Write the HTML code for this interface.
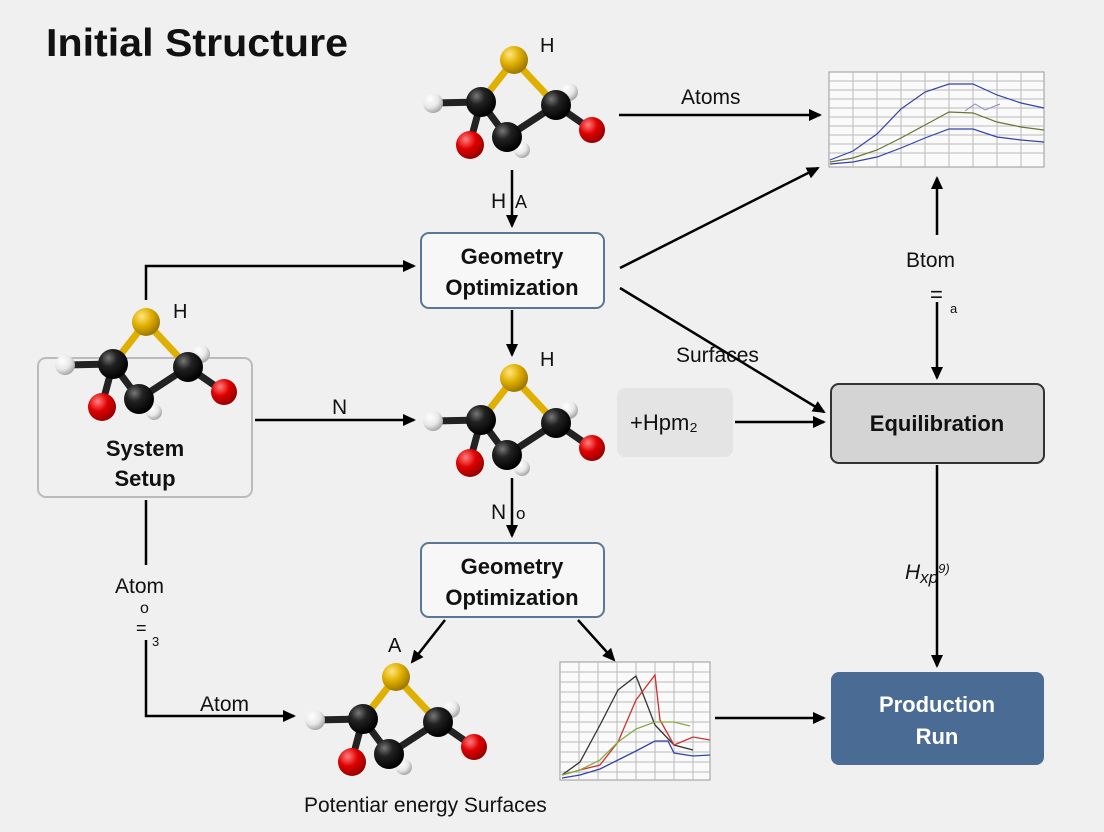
<!DOCTYPE html>
<html><head><meta charset="utf-8"><style>
html,body{margin:0;padding:0;background:#f0f0f0;}
svg{display:block;font-family:"Liberation Sans",sans-serif;}
</style></head><body>
<svg width="1104" height="832" viewBox="0 0 1104 832" xmlns="http://www.w3.org/2000/svg">
<defs>
<marker id="a" markerWidth="13" markerHeight="12" refX="11" refY="6" orient="auto" markerUnits="userSpaceOnUse"><path d="M0,0 L13,6 L0,12 z" fill="#000"/></marker>
<radialGradient id="gk" cx="35%" cy="30%" r="70%"><stop offset="0" stop-color="#777"/><stop offset="0.4" stop-color="#222"/><stop offset="1" stop-color="#000"/></radialGradient>
<radialGradient id="gs" cx="35%" cy="30%" r="70%"><stop offset="0" stop-color="#ffe680"/><stop offset="0.5" stop-color="#e0b000"/><stop offset="1" stop-color="#a07800"/></radialGradient>
<radialGradient id="gr" cx="35%" cy="30%" r="70%"><stop offset="0" stop-color="#ff8080"/><stop offset="0.5" stop-color="#e00000"/><stop offset="1" stop-color="#900"/></radialGradient>
<radialGradient id="gw" cx="35%" cy="30%" r="70%"><stop offset="0" stop-color="#fff"/><stop offset="0.6" stop-color="#e8e8e8"/><stop offset="1" stop-color="#aaa"/></radialGradient>
<g id="mol">
<g stroke-width="7" stroke-linecap="round">
<line x1="0" y1="0" x2="-33" y2="42" stroke="#e0b000"/>
<line x1="0" y1="0" x2="42" y2="45" stroke="#e0b000"/>
<line x1="-33" y1="42" x2="-7" y2="77" stroke="#222"/>
<line x1="42" y1="45" x2="-7" y2="77" stroke="#222"/>
<line x1="-33" y1="42" x2="-81" y2="43" stroke="#222"/>
<line x1="-33" y1="42" x2="-44" y2="83" stroke="#222"/>
<line x1="42" y1="45" x2="78" y2="70" stroke="#222"/>
</g>
<circle cx="-81" cy="43" r="10" fill="url(#gw)"/>
<circle cx="55" cy="32" r="9" fill="url(#gw)"/>
<circle cx="8" cy="90" r="8" fill="url(#gw)"/>
<circle cx="-33" cy="42" r="15" fill="url(#gk)"/>
<circle cx="42" cy="45" r="15" fill="url(#gk)"/>
<circle cx="-44" cy="85" r="14" fill="url(#gr)"/>
<circle cx="-7" cy="77" r="15" fill="url(#gk)"/>
<circle cx="78" cy="70" r="13" fill="url(#gr)"/>
<circle cx="0" cy="0" r="14" fill="url(#gs)"/>
</g>
</defs>

<text x="46" y="56" font-size="39" font-weight="bold" fill="#111" textLength="302" lengthAdjust="spacingAndGlyphs">Initial Structure</text>

<!-- boxes behind molecules -->
<rect x="38" y="358" width="214" height="139" rx="8" fill="none" stroke="#bbb" stroke-width="2"/>

<!-- molecules -->
<use href="#mol" x="514" y="60"/>
<use href="#mol" x="146" y="322"/>
<use href="#mol" x="514" y="378"/>
<use href="#mol" x="396" y="677"/>

<g font-size="20" fill="#111">
<text x="540" y="52">H</text>
<text x="173" y="318">H</text>
<text x="540" y="366">H</text>
<text x="388" y="652">A</text>
</g>

<text x="145" y="456" font-size="22" font-weight="bold" text-anchor="middle" fill="#111">System</text>
<text x="145" y="486" font-size="22" font-weight="bold" text-anchor="middle" fill="#111">Setup</text>

<rect x="421" y="233" width="183" height="75" rx="8" fill="#f7f7f7" stroke="#5a7896" stroke-width="2"/>
<text x="512" y="264" font-size="22" font-weight="bold" text-anchor="middle" fill="#111">Geometry</text>
<text x="512" y="295" font-size="22" font-weight="bold" text-anchor="middle" fill="#111">Optimization</text>

<rect x="421" y="543" width="183" height="74" rx="8" fill="#f7f7f7" stroke="#5a7896" stroke-width="2"/>
<text x="512" y="574" font-size="22" font-weight="bold" text-anchor="middle" fill="#111">Geometry</text>
<text x="512" y="605" font-size="22" font-weight="bold" text-anchor="middle" fill="#111">Optimization</text>

<rect x="617" y="388" width="116" height="69" rx="8" fill="#e4e4e4"/>
<text x="630" y="430" font-size="22" fill="#111">+Hpm₂</text>

<rect x="831" y="384" width="213" height="79" rx="8" fill="#d4d4d4" stroke="#333" stroke-width="2"/>
<text x="937" y="431" font-size="22" font-weight="bold" text-anchor="middle" fill="#111">Equilibration</text>

<rect x="831" y="672" width="213" height="93" rx="8" fill="#4a6c94"/>
<text x="937" y="712" font-size="22" font-weight="bold" text-anchor="middle" fill="#fff">Production</text>
<text x="937" y="744" font-size="22" font-weight="bold" text-anchor="middle" fill="#fff">Run</text>

<!-- top chart -->
<g>
<rect x="829" y="72" width="215" height="95" fill="#fafafa" stroke="#999"/>
<g stroke="#bbb" stroke-width="1">
<line x1="853" y1="72" x2="853" y2="167"/><line x1="877" y1="72" x2="877" y2="167"/><line x1="901" y1="72" x2="901" y2="167"/><line x1="925" y1="72" x2="925" y2="167"/><line x1="949" y1="72" x2="949" y2="167"/><line x1="973" y1="72" x2="973" y2="167"/><line x1="997" y1="72" x2="997" y2="167"/><line x1="1021" y1="72" x2="1021" y2="167"/>
<line x1="829" y1="81" x2="1044" y2="81"/><line x1="829" y1="90" x2="1044" y2="90"/><line x1="829" y1="99" x2="1044" y2="99"/><line x1="829" y1="108" x2="1044" y2="108"/><line x1="829" y1="117" x2="1044" y2="117"/><line x1="829" y1="126" x2="1044" y2="126"/><line x1="829" y1="135" x2="1044" y2="135"/><line x1="829" y1="144" x2="1044" y2="144"/><line x1="829" y1="153" x2="1044" y2="153"/>
</g>
<polyline fill="none" stroke="#3344aa" stroke-width="1.2" points="830,160 853,151 877,134 901,109 925,92 949,84 973,84 997,95 1021,103 1044,108"/>
<polyline fill="none" stroke="#667733" stroke-width="1.2" points="830,162 853,158 877,150 901,138 925,125 949,112 973,113 997,122 1021,127 1044,130"/>
<polyline fill="none" stroke="#3344aa" stroke-width="1.2" points="830,164 853,162 877,157 901,148 925,138 949,129 973,129 997,137 1021,140 1044,142"/>
<polyline fill="none" stroke="#8888cc" stroke-width="1" points="965,111 975,104 985,110 1000,104"/>
</g>

<!-- bottom chart -->
<g>
<rect x="560" y="662" width="150" height="118" fill="#fafafa" stroke="#999"/>
<g stroke="#bbb" stroke-width="1">
<line x1="579" y1="662" x2="579" y2="780"/><line x1="598" y1="662" x2="598" y2="780"/><line x1="617" y1="662" x2="617" y2="780"/><line x1="636" y1="662" x2="636" y2="780"/><line x1="655" y1="662" x2="655" y2="780"/><line x1="674" y1="662" x2="674" y2="780"/><line x1="693" y1="662" x2="693" y2="780"/>
<line x1="560" y1="672" x2="710" y2="672"/><line x1="560" y1="682" x2="710" y2="682"/><line x1="560" y1="692" x2="710" y2="692"/><line x1="560" y1="702" x2="710" y2="702"/><line x1="560" y1="712" x2="710" y2="712"/><line x1="560" y1="722" x2="710" y2="722"/><line x1="560" y1="732" x2="710" y2="732"/><line x1="560" y1="742" x2="710" y2="742"/><line x1="560" y1="752" x2="710" y2="752"/><line x1="560" y1="762" x2="710" y2="762"/><line x1="560" y1="772" x2="710" y2="772"/>
</g>
<polyline fill="none" stroke="#333" stroke-width="1.3" points="562,775 580,762 600,725 618,690 636,676 655,725 674,745 693,750"/>
<polyline fill="none" stroke="#cc3333" stroke-width="1.3" points="562,775 580,770 600,765 618,742 636,700 655,675 660,720 674,745 693,737 710,740"/>
<polyline fill="none" stroke="#88aa44" stroke-width="1.3" points="562,775 580,770 600,760 618,742 636,729 655,722 674,722 690,726"/>
<polyline fill="none" stroke="#3344aa" stroke-width="1.3" points="562,778 580,775 600,769 618,760 636,751 655,741 668,741 674,753 693,756 710,755"/>
</g>

<!-- connectors -->
<g stroke="#000" stroke-width="2.5" fill="none">
<line x1="619" y1="115" x2="820" y2="115" marker-end="url(#a)"/>
<line x1="512" y1="170" x2="512" y2="226" marker-end="url(#a)"/>
<polyline points="146,300 146,266 414,266" marker-end="url(#a)"/>
<line x1="620" y1="268" x2="818" y2="168" marker-end="url(#a)"/>
<line x1="620" y1="288" x2="824" y2="412" marker-end="url(#a)"/>
<line x1="512" y1="310" x2="512" y2="355" marker-end="url(#a)"/>
<line x1="255" y1="420" x2="414" y2="420" marker-end="url(#a)"/>
<line x1="735" y1="422" x2="824" y2="422" marker-end="url(#a)"/>
<line x1="937" y1="302" x2="937" y2="378" marker-end="url(#a)"/>
<line x1="937" y1="235" x2="937" y2="178" marker-end="url(#a)"/>
<line x1="512" y1="478" x2="512" y2="536" marker-end="url(#a)"/>
<line x1="937" y1="465" x2="937" y2="666" marker-end="url(#a)"/>
<line x1="445" y1="620" x2="412" y2="662" marker-end="url(#a)"/>
<line x1="578" y1="620" x2="614" y2="660" marker-end="url(#a)"/>
<line x1="715" y1="718" x2="824" y2="718" marker-end="url(#a)"/>
<polyline points="146,500 146,565"/>
<polyline points="146,640 146,716 294,716" marker-end="url(#a)"/>
</g>

<g font-size="21" fill="#111">
<text x="681" y="104">Atoms</text>
<text x="491" y="208">H</text><text x="515" y="208" font-size="18">A</text>
<text x="906" y="267">Btom</text>
<text x="930" y="302" font-size="22">=</text><text x="950" y="313" font-size="13">a</text>
<text x="676" y="362">Surfaces</text>
<text x="332" y="414">N</text>
<text x="491" y="519">N</text><text x="516" y="519" font-size="17">o</text>
<text x="905" y="579" font-style="italic">H<tspan font-size="17" dy="4">xp</tspan><tspan font-size="13" dy="-10">9)</tspan></text>
<text x="115" y="593">Atom</text>
<text x="140" y="613" font-size="16">o</text>
<text x="136" y="634" font-size="18">=</text><text x="152" y="646" font-size="13">3</text>
<text x="200" y="711">Atom</text>
<text x="304" y="812">Potentiar energy Surfaces</text>
</g>
</svg>
</body></html>
